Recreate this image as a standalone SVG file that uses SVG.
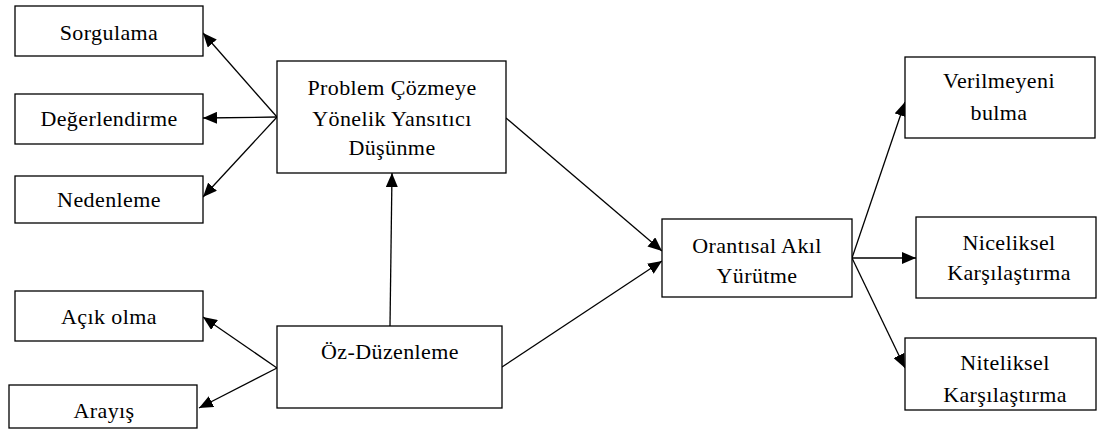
<svg xmlns="http://www.w3.org/2000/svg" width="1097" height="439" viewBox="0 0 1097 439">
<style>
.box{fill:#fff;stroke:#000;stroke-width:1.3}
.t{font-family:"Liberation Serif",serif;font-size:22px;letter-spacing:0.4px;fill:#000;text-anchor:middle}
.c{stroke:#000;stroke-width:1.3;fill:none;marker-end:url(#ah)}
</style>
<defs>
<marker id="ah" markerUnits="userSpaceOnUse" markerWidth="16" markerHeight="12" refX="14" refY="6" orient="auto">
<path d="M0,0 L14,6 L0,12 Z" fill="#000"/>
</marker>
</defs>
<rect width="1097" height="439" fill="#fff"/>
<g id="connectors">
<line class="c" x1="277" y1="117" x2="203" y2="33"/>
<line class="c" x1="277" y1="117" x2="203" y2="118"/>
<line class="c" x1="277" y1="117" x2="203" y2="197"/>
<line class="c" x1="277" y1="368" x2="203" y2="317"/>
<line class="c" x1="277" y1="368" x2="199" y2="408"/>
<line class="c" x1="390" y1="326" x2="392" y2="173"/>
<line class="c" x1="506" y1="118" x2="662" y2="251"/>
<line class="c" x1="502" y1="367" x2="662" y2="261"/>
<line class="c" x1="852" y1="258" x2="905" y2="102"/>
<line class="c" x1="852" y1="258" x2="916" y2="258"/>
<line class="c" x1="852" y1="258" x2="905" y2="368"/>
</g>
<g id="sorgulama"><rect class="box" x="15" y="6" width="188" height="50"/><text class="t" x="109" y="40">Sorgulama</text></g>
<g id="degerlendirme"><rect class="box" x="15" y="94" width="188" height="50"/><text class="t" x="109" y="126">Değerlendirme</text></g>
<g id="nedenleme"><rect class="box" x="15" y="176" width="188" height="47"/><text class="t" x="109" y="207">Nedenleme</text></g>
<g id="problem"><rect class="box" x="277" y="61" width="229" height="112"/><text class="t" x="392" y="95">Problem Çözmeye</text><text class="t" x="392" y="126">Yönelik Yansıtıcı</text><text class="t" x="392" y="155">Düşünme</text></g>
<g id="acik-olma"><rect class="box" x="15" y="291" width="188" height="50"/><text class="t" x="109" y="324">Açık olma</text></g>
<g id="arayis"><rect class="box" x="9" y="385" width="188" height="43"/><text class="t" x="104" y="418">Arayış</text></g>
<g id="oz-duzenleme"><rect class="box" x="277" y="326" width="225" height="82"/><text class="t" x="390" y="359">Öz-Düzenleme</text></g>
<g id="orantisal"><rect class="box" x="662" y="219" width="190" height="78"/><text class="t" x="757" y="253">Orantısal Akıl</text><text class="t" x="757" y="283">Yürütme</text></g>
<g id="verilmeyeni"><rect class="box" x="905" y="57" width="190" height="81"/><text class="t" x="999" y="88">Verilmeyeni</text><text class="t" x="999" y="120">bulma</text></g>
<g id="niceliksel"><rect class="box" x="916" y="217" width="180" height="81"/><text class="t" x="1009" y="250">Niceliksel</text><text class="t" x="1009" y="280">Karşılaştırma</text></g>
<g id="niteliksel"><rect class="box" x="905" y="338" width="191" height="72"/><text class="t" x="1005" y="370">Niteliksel</text><text class="t" x="1005" y="402">Karşılaştırma</text></g>
</svg>
